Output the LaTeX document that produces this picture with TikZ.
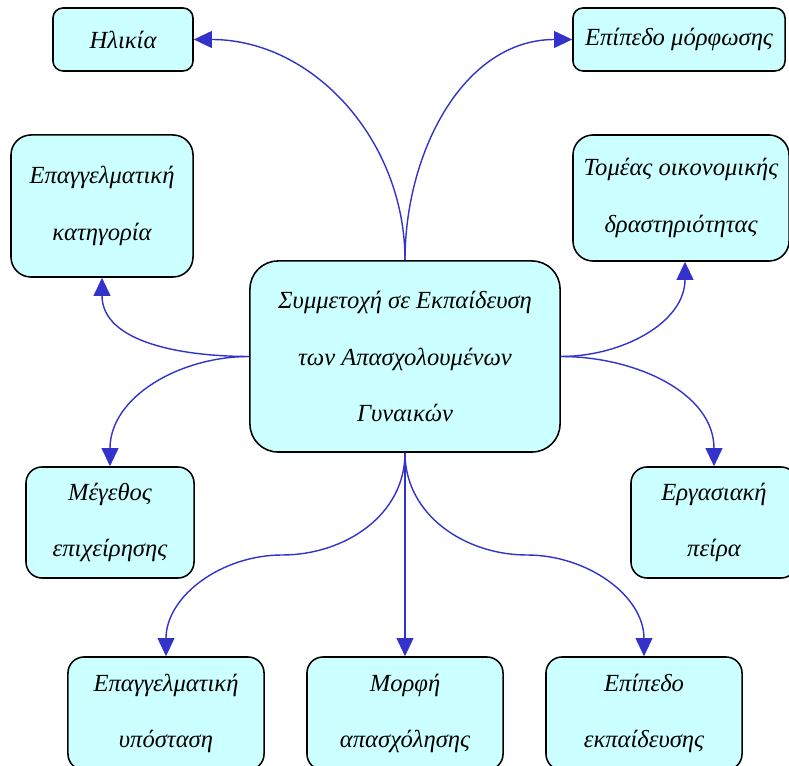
\documentclass[tikz,border=0pt]{standalone}
\usepackage{fontspec}
\setmainfont{Liberation Serif}
\usetikzlibrary{arrows.meta}
\definecolor{boxcyan}{RGB}{204,255,255}
\definecolor{arrblue}{RGB}{51,51,204}

\begin{document}
\begin{tikzpicture}[x=0.025cm,y=-0.025cm,
    font=\itshape\fontsize{17.5}{40}\selectfont,
    >={Triangle[length=4.5mm,width=4.2mm]},
    b/.style={draw,line width=1.1pt,fill=boxcyan,align=center,inner sep=2pt,rounded corners=#1},
    b/.default=3mm,
    a/.style={->,arrblue,line width=1pt}]
  \useasboundingbox (0,0) rectangle (789,766);
  \node[b=7mm,minimum width=7.75cm,minimum height=4.775cm] (c) at (405,356.5)
    {Συμμετοχή σε Εκπαίδευση\\των Απασχολουμένων\\Γυναικών};
  \node[b=2.5mm,minimum width=3.5cm,minimum height=1.575cm] (age) at (123,39.5) {Ηλικία};
  \node[b=2.5mm,minimum width=5.3cm,minimum height=1.575cm] (edu) at (679,39.5) {Επίπεδο μόρφωσης};
  \node[b=5mm,minimum width=4.55cm,minimum height=3.55cm] (occ) at (102,206)
    {Επαγγελματική\\κατηγορία};
  \node[b=5mm,minimum width=5.4cm,minimum height=3.15cm] (sec) at (681,198)
    {Τομέας οικονομικής\\δραστηριότητας};
  \node[b=4mm,minimum width=4.2cm,minimum height=2.775cm] (size) at (110,522.5)
    {Μέγεθος\\επιχείρησης};
  \node[b=4mm,minimum width=4.15cm,minimum height=2.775cm] (exp) at (714,522.5)
    {Εργασιακή\\πείρα};
  \node[b=4mm,minimum width=4.9cm,minimum height=2.825cm] (stat) at (166,713.5)
    {Επαγγελματική\\υπόσταση};
  \node[b=4mm,minimum width=4.9cm,minimum height=2.825cm] (form) at (405,713.5)
    {Μορφή\\απασχόλησης};
  \node[b=4mm,minimum width=4.9cm,minimum height=2.825cm] (lvl) at (644,713.5)
    {Επίπεδο\\εκπαίδευσης};
  \coordinate (kl) at (282,555);
  \coordinate (kr) at (527,555);
  \draw[a] (c.north) to[out=90,in=0] (age.east);
  \draw[a] (c.north) to[out=90,in=180] (edu.west);
  \draw[a] (c.west) to[out=180,in=-90] (occ.south);
  \draw[a] (c.west) to[out=180,in=90] (size.north);
  \draw[a] (c.east) to[out=0,in=-90] ([xshift=1mm]sec.south);
  \draw[a] (c.east) to[out=0,in=90] (exp.north);
  \draw[a] (c.south) to[out=-90,in=0] (kl) to[out=180,in=90] (stat.north);
  \draw[a] (c.south) -- (form.north);
  \draw[a] (c.south) to[out=-90,in=180] (kr) to[out=0,in=90] (lvl.north);
\end{tikzpicture}
\end{document}
